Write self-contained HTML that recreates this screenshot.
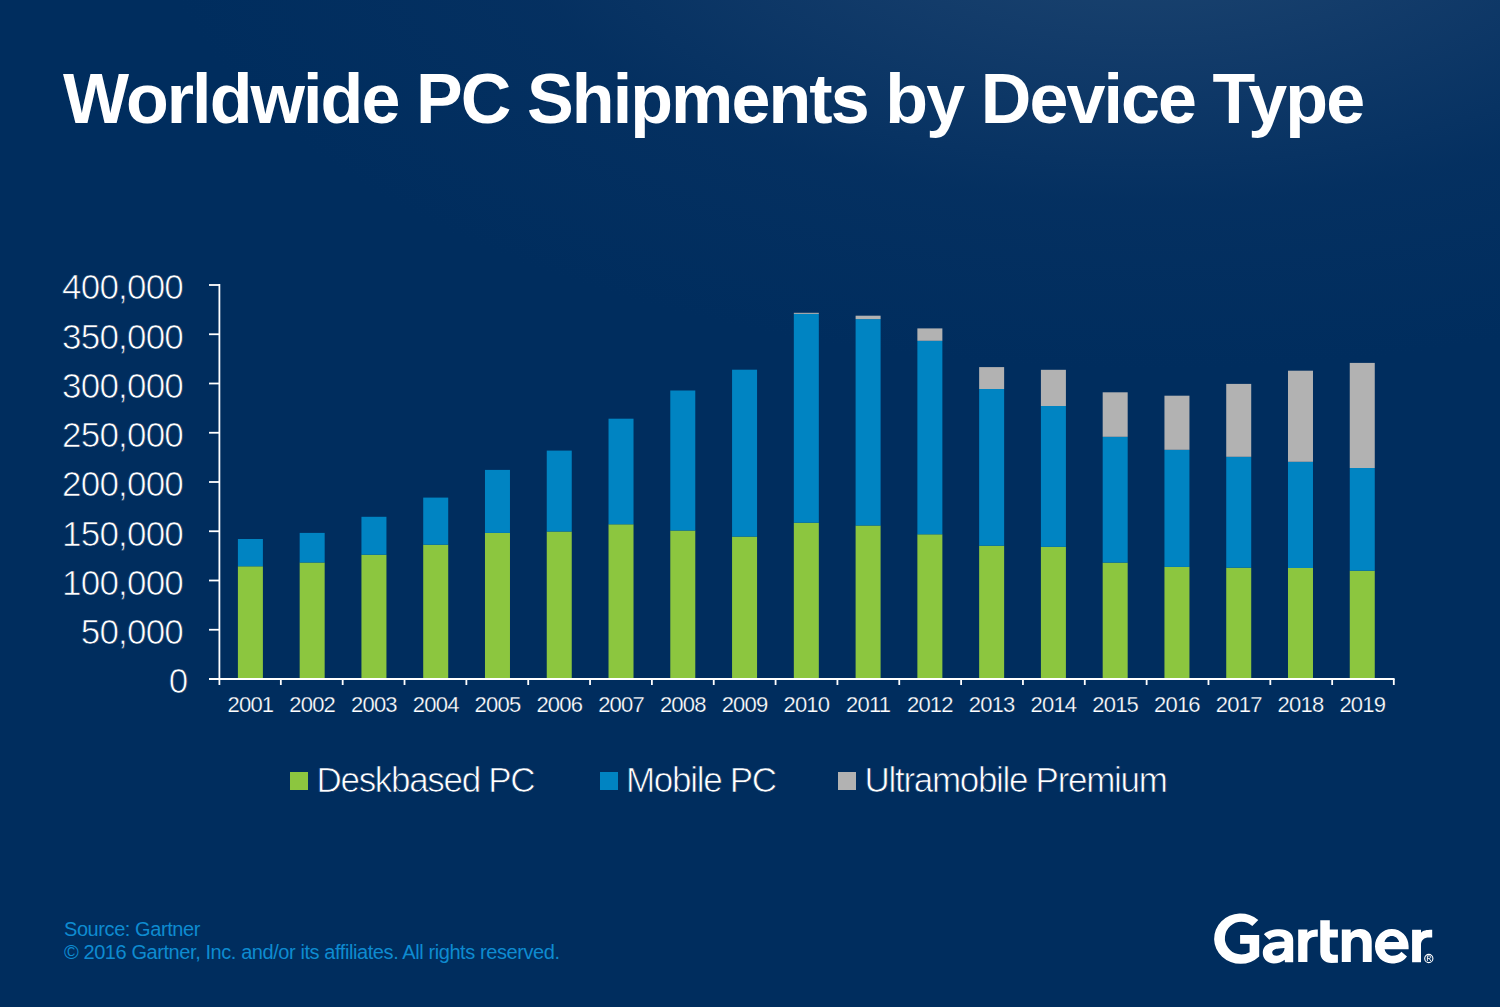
<!DOCTYPE html>
<html><head><meta charset="utf-8"><style>
html,body{margin:0;padding:0;}
body{width:1500px;height:1007px;position:relative;overflow:hidden;font-family:"Liberation Sans",sans-serif;
background:#002d5e;}
.bg{position:absolute;left:0;top:0;width:1500px;height:1007px;
background:radial-gradient(ellipse 1000px 480px at 1150px -110px, rgba(32,72,114,1) 0%, rgba(22,62,108,0.8) 35%, rgba(10,52,100,0.45) 65%, rgba(0,45,94,0) 100%);}
.title{position:absolute;left:63px;top:58.5px;font-weight:700;font-size:70px;line-height:80px;color:#fff;letter-spacing:-1.9px;white-space:nowrap;}
svg.chart{position:absolute;left:0;top:0;}
.yl{position:absolute;right:1317px;font-size:35px;line-height:35px;color:#fff;letter-spacing:-0.8px;-webkit-text-stroke:0.7px #002d5e;white-space:nowrap;}
.xl{position:absolute;top:694px;width:80px;text-align:center;font-size:22px;line-height:22px;color:#fff;letter-spacing:-0.8px;-webkit-text-stroke:0.25px #002d5e;white-space:nowrap;}
.lg{position:absolute;top:761.5px;font-size:35px;line-height:35px;color:#fff;letter-spacing:-1.3px;-webkit-text-stroke:0.7px #002d5e;white-space:nowrap;}
.sq{position:absolute;top:772px;width:18px;height:18px;}
.foot{position:absolute;left:64px;font-size:20px;line-height:22px;color:#0e8bd0;letter-spacing:-0.42px;white-space:nowrap;}
</style></head><body>
<div class="bg"></div>
<div class="title">Worldwide PC Shipments by Device Type</div>
<svg class="chart" width="1500" height="1007" viewBox="0 0 1500 1007">
<rect x="237.90" y="566.30" width="25" height="112.70" fill="#8cc63f"/><rect x="237.90" y="539.00" width="25" height="27.30" fill="#0084c2"/><rect x="299.67" y="562.50" width="25" height="116.50" fill="#8cc63f"/><rect x="299.67" y="532.90" width="25" height="29.60" fill="#0084c2"/><rect x="361.44" y="554.70" width="25" height="124.30" fill="#8cc63f"/><rect x="361.44" y="516.80" width="25" height="37.90" fill="#0084c2"/><rect x="423.21" y="544.70" width="25" height="134.30" fill="#8cc63f"/><rect x="423.21" y="497.60" width="25" height="47.10" fill="#0084c2"/><rect x="484.98" y="532.90" width="25" height="146.10" fill="#8cc63f"/><rect x="484.98" y="469.90" width="25" height="63.00" fill="#0084c2"/><rect x="546.75" y="531.50" width="25" height="147.50" fill="#8cc63f"/><rect x="546.75" y="450.60" width="25" height="80.90" fill="#0084c2"/><rect x="608.52" y="524.30" width="25" height="154.70" fill="#8cc63f"/><rect x="608.52" y="418.70" width="25" height="105.60" fill="#0084c2"/><rect x="670.29" y="530.50" width="25" height="148.50" fill="#8cc63f"/><rect x="670.29" y="390.50" width="25" height="140.00" fill="#0084c2"/><rect x="732.06" y="536.60" width="25" height="142.40" fill="#8cc63f"/><rect x="732.06" y="369.70" width="25" height="166.90" fill="#0084c2"/><rect x="793.83" y="522.70" width="25" height="156.30" fill="#8cc63f"/><rect x="793.83" y="313.90" width="25" height="208.80" fill="#0084c2"/><rect x="793.83" y="312.80" width="25" height="1.10" fill="#b2b2b2"/><rect x="855.60" y="525.50" width="25" height="153.50" fill="#8cc63f"/><rect x="855.60" y="319.10" width="25" height="206.40" fill="#0084c2"/><rect x="855.60" y="315.70" width="25" height="3.40" fill="#b2b2b2"/><rect x="917.37" y="534.30" width="25" height="144.70" fill="#8cc63f"/><rect x="917.37" y="340.80" width="25" height="193.50" fill="#0084c2"/><rect x="917.37" y="328.40" width="25" height="12.40" fill="#b2b2b2"/><rect x="979.14" y="545.70" width="25" height="133.30" fill="#8cc63f"/><rect x="979.14" y="389.00" width="25" height="156.70" fill="#0084c2"/><rect x="979.14" y="367.10" width="25" height="21.90" fill="#b2b2b2"/><rect x="1040.91" y="546.80" width="25" height="132.20" fill="#8cc63f"/><rect x="1040.91" y="406.00" width="25" height="140.80" fill="#0084c2"/><rect x="1040.91" y="369.80" width="25" height="36.20" fill="#b2b2b2"/><rect x="1102.68" y="562.60" width="25" height="116.40" fill="#8cc63f"/><rect x="1102.68" y="436.80" width="25" height="125.80" fill="#0084c2"/><rect x="1102.68" y="392.30" width="25" height="44.50" fill="#b2b2b2"/><rect x="1164.45" y="566.90" width="25" height="112.10" fill="#8cc63f"/><rect x="1164.45" y="449.80" width="25" height="117.10" fill="#0084c2"/><rect x="1164.45" y="395.70" width="25" height="54.10" fill="#b2b2b2"/><rect x="1226.22" y="567.70" width="25" height="111.30" fill="#8cc63f"/><rect x="1226.22" y="456.80" width="25" height="110.90" fill="#0084c2"/><rect x="1226.22" y="383.90" width="25" height="72.90" fill="#b2b2b2"/><rect x="1287.99" y="568.00" width="25" height="111.00" fill="#8cc63f"/><rect x="1287.99" y="461.80" width="25" height="106.20" fill="#0084c2"/><rect x="1287.99" y="370.70" width="25" height="91.10" fill="#b2b2b2"/><rect x="1349.76" y="570.70" width="25" height="108.30" fill="#8cc63f"/><rect x="1349.76" y="468.00" width="25" height="102.70" fill="#0084c2"/><rect x="1349.76" y="362.90" width="25" height="105.10" fill="#b2b2b2"/>
<line x1="219.4" y1="284" x2="219.4" y2="680" stroke="#fff" stroke-width="1.8"/><line x1="209" y1="285.00" x2="220" y2="285.00" stroke="#fff" stroke-width="1.8"/><line x1="209" y1="334.25" x2="220" y2="334.25" stroke="#fff" stroke-width="1.8"/><line x1="209" y1="383.50" x2="220" y2="383.50" stroke="#fff" stroke-width="1.8"/><line x1="209" y1="432.75" x2="220" y2="432.75" stroke="#fff" stroke-width="1.8"/><line x1="209" y1="482.00" x2="220" y2="482.00" stroke="#fff" stroke-width="1.8"/><line x1="209" y1="531.25" x2="220" y2="531.25" stroke="#fff" stroke-width="1.8"/><line x1="209" y1="580.50" x2="220" y2="580.50" stroke="#fff" stroke-width="1.8"/><line x1="209" y1="629.75" x2="220" y2="629.75" stroke="#fff" stroke-width="1.8"/><line x1="209" y1="679.00" x2="220" y2="679.00" stroke="#fff" stroke-width="1.8"/><line x1="209" y1="679" x2="1394.6" y2="679" stroke="#fff" stroke-width="1.8"/><line x1="219.40" y1="679" x2="219.40" y2="685" stroke="#fff" stroke-width="1.8"/><line x1="280.84" y1="679" x2="280.84" y2="685" stroke="#fff" stroke-width="1.8"/><line x1="342.68" y1="679" x2="342.68" y2="685" stroke="#fff" stroke-width="1.8"/><line x1="404.53" y1="679" x2="404.53" y2="685" stroke="#fff" stroke-width="1.8"/><line x1="466.37" y1="679" x2="466.37" y2="685" stroke="#fff" stroke-width="1.8"/><line x1="528.21" y1="679" x2="528.21" y2="685" stroke="#fff" stroke-width="1.8"/><line x1="590.05" y1="679" x2="590.05" y2="685" stroke="#fff" stroke-width="1.8"/><line x1="651.89" y1="679" x2="651.89" y2="685" stroke="#fff" stroke-width="1.8"/><line x1="713.74" y1="679" x2="713.74" y2="685" stroke="#fff" stroke-width="1.8"/><line x1="775.58" y1="679" x2="775.58" y2="685" stroke="#fff" stroke-width="1.8"/><line x1="837.42" y1="679" x2="837.42" y2="685" stroke="#fff" stroke-width="1.8"/><line x1="899.26" y1="679" x2="899.26" y2="685" stroke="#fff" stroke-width="1.8"/><line x1="961.11" y1="679" x2="961.11" y2="685" stroke="#fff" stroke-width="1.8"/><line x1="1022.95" y1="679" x2="1022.95" y2="685" stroke="#fff" stroke-width="1.8"/><line x1="1084.79" y1="679" x2="1084.79" y2="685" stroke="#fff" stroke-width="1.8"/><line x1="1146.63" y1="679" x2="1146.63" y2="685" stroke="#fff" stroke-width="1.8"/><line x1="1208.47" y1="679" x2="1208.47" y2="685" stroke="#fff" stroke-width="1.8"/><line x1="1270.32" y1="679" x2="1270.32" y2="685" stroke="#fff" stroke-width="1.8"/><line x1="1332.16" y1="679" x2="1332.16" y2="685" stroke="#fff" stroke-width="1.8"/><line x1="1393.80" y1="679" x2="1393.80" y2="685" stroke="#fff" stroke-width="1.8"/>
</svg>
<div class="yl" style="top:269.30px;">400,000</div><div class="yl" style="top:318.55px;">350,000</div><div class="yl" style="top:367.80px;">300,000</div><div class="yl" style="top:417.05px;">250,000</div><div class="yl" style="top:466.30px;">200,000</div><div class="yl" style="top:515.55px;">150,000</div><div class="yl" style="top:564.80px;">100,000</div><div class="yl" style="top:614.05px;">50,000</div><div class="yl" style="top:663.30px;right:1312.5px;">0</div>
<div class="xl" style="left:210.40px">2001</div><div class="xl" style="left:272.17px">2002</div><div class="xl" style="left:333.94px">2003</div><div class="xl" style="left:395.71px">2004</div><div class="xl" style="left:457.48px">2005</div><div class="xl" style="left:519.25px">2006</div><div class="xl" style="left:581.02px">2007</div><div class="xl" style="left:642.79px">2008</div><div class="xl" style="left:704.56px">2009</div><div class="xl" style="left:766.33px">2010</div><div class="xl" style="left:828.10px">2011</div><div class="xl" style="left:889.87px">2012</div><div class="xl" style="left:951.64px">2013</div><div class="xl" style="left:1013.41px">2014</div><div class="xl" style="left:1075.18px">2015</div><div class="xl" style="left:1136.95px">2016</div><div class="xl" style="left:1198.72px">2017</div><div class="xl" style="left:1260.49px">2018</div><div class="xl" style="left:1322.26px">2019</div>
<div class="sq" style="left:290px;background:#8cc63f"></div><div class="lg" style="left:316.5px">Deskbased PC</div>
<div class="sq" style="left:600px;background:#0084c2"></div><div class="lg" style="left:626px">Mobile PC</div>
<div class="sq" style="left:838px;background:#b2b2b2"></div><div class="lg" style="left:864.5px">Ultramobile Premium</div>
<div class="foot" style="top:917.5px">Source: Gartner</div>
<div class="foot" style="top:940.5px">© 2016 Gartner, Inc. and/or its affiliates. All rights reserved.</div>
<svg class="chart" width="1500" height="1007" viewBox="0 0 1500 1007">
<g fill="#fff">
<path d="M 1258.3,919.9 A 26.5 25.15 0 1 0 1259.2,956.55 L 1259.2,935.1 L 1240.1,935.1 L 1240.1,943.8 L 1249.6,943.8 L 1249.6,952.2 A 16.4 16.4 0 1 1 1252.3,925.9 Z"/>
<path fill-rule="evenodd" d="M 1263.9,934.3 C 1267,931 1273,929.2 1279.5,929.2 C 1288,929.2 1293.2,933.5 1293.2,940 L 1293.2,962.2 L 1284.9,962.2 L 1284.7,959.8 C 1282,962.2 1278,963.4 1273.8,963.4 C 1267.2,963.4 1262.8,959 1262.8,952.8 C 1262.8,946 1268,942.4 1276,941.9 L 1284.5,941.4 L 1284.5,941 C 1284.5,938.3 1281.5,936.3 1277.5,936.3 C 1274.3,936.3 1271.6,937.5 1269.3,939.7 Z M 1272.2,952.4 C 1272.2,950 1275,948.6 1279,948.4 L 1284.5,948.1 C 1284.5,952.4 1281,955.7 1276.6,955.7 C 1274,955.7 1272.2,954.4 1272.2,952.4 Z"/>
<path d="M 1298.2,929.6 L 1307.4,929.6 L 1307.4,933 C 1309.5,930.5 1312.5,929.6 1317.8,929.6 L 1317.8,936.8 L 1315.5,936.8 C 1310.5,936.8 1307.4,939.5 1307.4,945 L 1307.4,961.9 L 1298.2,961.9 Z"/>
<path d="M 1320.3,920.2 L 1329.8,920.2 L 1329.8,929.6 L 1337.9,929.6 L 1337.9,937.6 L 1329.8,937.6 L 1329.8,950.5 C 1329.8,953.5 1331.3,954.7 1334,954.7 L 1337.9,954.7 L 1337.9,962.7 L 1331.5,962.9 C 1324.5,962.9 1320.3,959 1320.3,952 Z"/>
<path d="M 1341.8,962 L 1341.8,929.6 L 1350.7,929.6 L 1350.7,933 C 1353,930.3 1356.2,928.9 1360.3,928.9 C 1367.3,928.9 1371.7,933.6 1371.7,941.4 L 1371.7,962 L 1362.8,962 L 1362.8,944 C 1362.8,939.5 1360.8,937 1357.2,937 C 1353.2,937 1350.8,939.6 1350.8,944 L 1350.8,962 Z"/>
<path fill-rule="evenodd" d="M 1407,956.4 C 1404,960.8 1398.5,963.4 1391.8,963.4 C 1382.5,963.4 1375,955.7 1375,946.2 C 1375,936.7 1382.5,928.9 1391.8,928.9 C 1401.1,928.9 1408.6,936.6 1408.6,946.2 L 1408.6,949.2 L 1384.6,949.2 C 1385.6,953.2 1388.5,955.7 1392.5,955.7 C 1396.2,955.7 1399.4,954.3 1401.4,951.7 Z M 1384.5,941.9 C 1385.5,938.4 1388.3,936.1 1391.8,936.1 C 1395.3,936.1 1398.1,938.4 1399.1,941.9 Z"/>
<path d="M 1412.1,929.8 L 1421,929.8 L 1421,932.8 C 1423,930.6 1426,929.8 1432.2,929.8 L 1432.2,937.5 L 1429,937.5 C 1424,937.5 1421,940 1421,945 L 1421,962.2 L 1412.1,962.2 Z"/>
</g>
<circle cx="1428.8" cy="958.5" r="4.1" fill="none" stroke="#fff" stroke-width="1.1"/>
<path d="M 1427.4,961 V 955.9 H 1429.2 C 1430.2,955.9 1430.7,956.4 1430.7,957.15 C 1430.7,957.9 1430.2,958.4 1429.2,958.4 H 1427.4 M 1429.2,958.4 L 1430.8,961" fill="none" stroke="#fff" stroke-width="0.9"/>
</svg>
</body></html>
